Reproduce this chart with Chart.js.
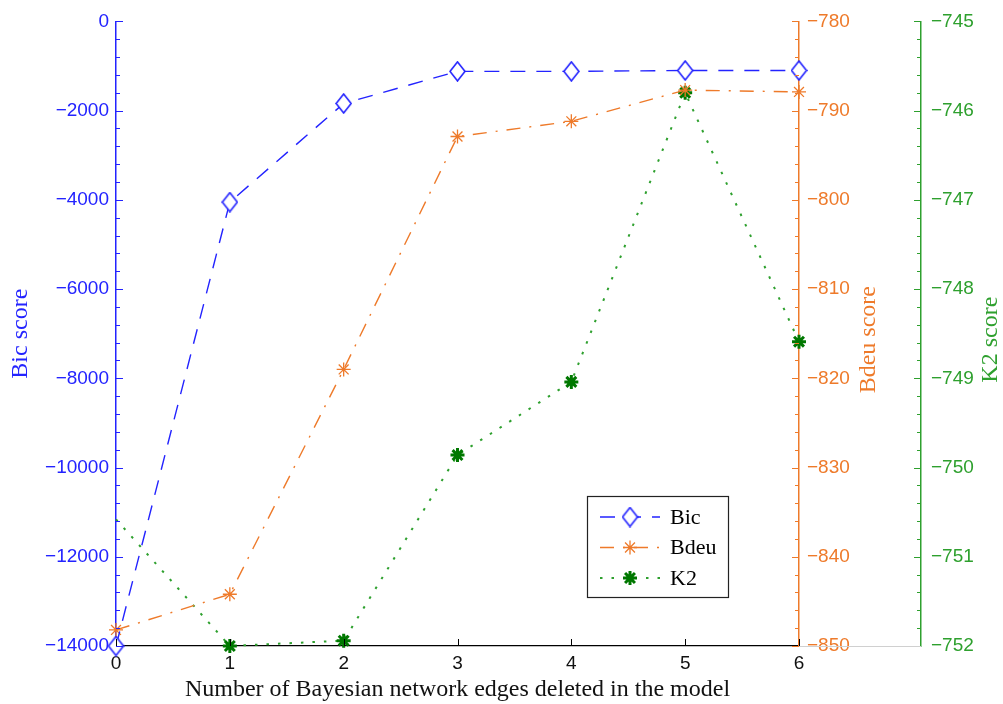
<!DOCTYPE html>
<html>
<head>
<meta charset="utf-8">
<title>Bayesian network scores</title>
<script src="https://cdn.jsdelivr.net/npm/chart.js@4.4.1/dist/chart.umd.min.js"></script>
<style>
  html, body { margin: 0; padding: 0; background: #ffffff; }
  canvas { display: block; }
</style>
</head>
<body>
<canvas id="scoreChart" width="1003" height="704"></canvas>
<script>
// values
const edgesDeleted = [0, 1, 2, 3, 4, 5, 6];
const bicScores = [-14000, -4050, -1840, -1120, -1120, -1100, -1100];
const bdeuScores = [-848.2, -844.2, -819.0, -792.9, -791.2, -787.7, -787.9];
const k2Scores = [-750.58, -752.0, -751.94, -749.86, -749.04, -745.80, -748.59];

const bicTicks = { min: -14000, max: 0, step: 2000 };
const bdeuTicks = { min: -850, max: -780, step: 10 };
const k2Ticks = { min: -752, max: -745, step: 1 };

const BLUE = '#2323ff';
const ORANGE = '#ee7a2a';
const GREEN = '#2ea02e';
const DARK_GREEN = '#007800';

const SANS = '"Liberation Sans", Arial, sans-serif';
const SERIF = '"Liberation Serif", "Times New Roman", serif';

function minus(v) {
  return String(Math.round(v)).replace('-', '\u2212');
}

function pairs(ys) {
  return edgesDeleted.map((x, i) => ({ x: x, y: ys[i] }));
}

// tall open diamond, like the matlab 'd' marker
function diamondMarker(w, h, color) {
  const c = document.createElement('canvas');
  c.width = w;
  c.height = h;
  const g = c.getContext('2d');
  g.strokeStyle = color;
  g.fillStyle = '#ffffff';
  g.lineWidth = 1.6;
  g.beginPath();
  g.moveTo(w / 2, 1);
  g.lineTo(w - 1, h / 2);
  g.lineTo(w / 2, h - 1);
  g.lineTo(1, h / 2);
  g.closePath();
  g.fill();
  g.stroke();
  return c;
}
const bicMarker = diamondMarker(17, 21, BLUE);

// inward MATLAB style tick marks, minor ticks and the grey box edge
const axisMarks = {
  id: 'axisMarks',
  afterDatasetsDraw(chart) {
    const ctx = chart.ctx;
    const ca = chart.chartArea;
    const specs = [
      { id: 'y', pos: chart.scales.y.right, dir: 1, color: BLUE, t: bicTicks },
      { id: 'y1', pos: chart.scales.y1.left, dir: -1, color: ORANGE, t: bdeuTicks },
      { id: 'y2', pos: chart.scales.y2.left, dir: -1, color: GREEN, t: k2Ticks }
    ];
    ctx.save();
    ctx.lineWidth = 1;
    specs.forEach(s => {
      const scale = chart.scales[s.id];
      const minor = s.t.step / 5;
      const n = Math.round((s.t.max - s.t.min) / minor);
      ctx.strokeStyle = s.color;
      for (let i = 0; i <= n; i++) {
        const v = s.t.min + i * minor;
        const py = Math.round(scale.getPixelForValue(v)) + 0.5;
        const len = i % 5 === 0 ? 7 : 4;
        ctx.beginPath();
        ctx.moveTo(s.pos, py);
        ctx.lineTo(s.pos + s.dir * len, py);
        ctx.stroke();
      }
    });
    // x ticks
    const xs = chart.scales.x;
    ctx.strokeStyle = '#000000';
    edgesDeleted.forEach(v => {
      const px = Math.round(xs.getPixelForValue(v)) + 0.5;
      ctx.beginPath();
      ctx.moveTo(px, ca.bottom);
      ctx.lineTo(px, ca.bottom - 7);
      ctx.stroke();
    });
    // grey baseline of the K2 axes box
    ctx.strokeStyle = '#d0d0d0';
    ctx.beginPath();
    ctx.moveTo(ca.right, ca.bottom + 0.5);
    ctx.lineTo(chart.scales.y2.left, ca.bottom + 0.5);
    ctx.stroke();

    // right axis titles, reading bottom to top
    const titles = [
      { text: 'Bdeu score', x: chart.scales.y1.right - 52, color: ORANGE },
      { text: 'K2 score', x: chart.scales.y2.right - 12, color: GREEN }
    ];
    ctx.font = '24px ' + SERIF;
    ctx.textAlign = 'center';
    ctx.textBaseline = 'middle';
    titles.forEach(t => {
      ctx.save();
      ctx.translate(t.x, (ca.top + ca.bottom) / 2 + 6);
      ctx.rotate(-Math.PI / 2);
      ctx.fillStyle = t.color;
      ctx.fillText(t.text, 0, 0);
      ctx.restore();
    });
    ctx.restore();
  }
};

// boxed legend inside the plot
const boxLegend = {
  id: 'boxLegend',
  afterDraw(chart) {
    const ctx = chart.ctx;
    const ca = chart.chartArea;
    const bx = ca.right - 212, by = ca.bottom - 150, bw = 141, bh = 101;
    ctx.save();
    ctx.fillStyle = '#ffffff';
    ctx.fillRect(bx, by, bw, bh);
    ctx.strokeStyle = '#222222';
    ctx.lineWidth = 1.2;
    ctx.strokeRect(bx + 0.5, by + 0.5, bw, bh);
    chart.data.datasets.forEach((ds, i) => {
      const y = by + 21 + i * 30.5;
      ctx.save();
      ctx.strokeStyle = ds.borderColor;
      ctx.lineWidth = ds.borderWidth;
      ctx.setLineDash(ds.borderDash || []);
      ctx.beginPath();
      ctx.moveTo(bx + 13, y);
      ctx.lineTo(bx + 73, y);
      ctx.stroke();
      ctx.setLineDash([]);
      ctx.strokeStyle = ds.pointBorderColor;
      ctx.fillStyle = ds.pointBackgroundColor;
      ctx.lineWidth = ds.pointBorderWidth;
      Chart.helpers.drawPoint(ctx, {
        pointStyle: ds.pointStyle,
        radius: ds.legendRadius,
        rotation: 0,
        borderWidth: ds.pointBorderWidth
      }, bx + 43, y);
      ctx.restore();
      ctx.fillStyle = '#000000';
      ctx.font = '22px ' + SERIF;
      ctx.textAlign = 'left';
      ctx.textBaseline = 'middle';
      ctx.fillText(ds.label, bx + 83, y + 1);
    });
    ctx.restore();
  }
};

const ctx = document.getElementById('scoreChart').getContext('2d');

const scoreChart = new Chart(ctx, {
  type: 'line',
  data: {
    datasets: [{
      label: 'Bic',
      data: pairs(bicScores),
      yAxisID: 'y',
      borderColor: BLUE,
      borderWidth: 1.4,
      borderDash: [15, 11],
      pointStyle: bicMarker,
      pointRadius: 8,
      legendRadius: 7,
      pointBorderColor: BLUE,
      pointBackgroundColor: 'rgba(255,255,255,0)',
      pointBorderWidth: 1.5,
      tension: 0,
      clip: false
    }, {
      label: 'Bdeu',
      data: pairs(bdeuScores),
      yAxisID: 'y1',
      borderColor: ORANGE,
      borderWidth: 1.4,
      borderDash: [14, 9, 2, 9],
      pointStyle: 'star',
      pointRadius: 7,
      legendRadius: 7,
      pointBorderColor: ORANGE,
      pointBackgroundColor: ORANGE,
      pointBorderWidth: 1.3,
      tension: 0,
      clip: false
    }, {
      label: 'K2',
      data: pairs(k2Scores),
      yAxisID: 'y2',
      borderColor: GREEN,
      borderWidth: 2,
      borderDash: [2.5, 9],
      pointStyle: 'star',
      pointRadius: [0, 7, 7, 7, 7, 7, 7],
      legendRadius: 7,
      pointBorderColor: DARK_GREEN,
      pointBackgroundColor: DARK_GREEN,
      pointBorderWidth: 3,
      tension: 0,
      clip: false
    }]
  },
  options: {
    responsive: false,
    animation: false,
    layout: { padding: { top: 20, left: 0, right: 0, bottom: 0 } },
    plugins: {
      legend: { display: false },
      tooltip: { enabled: false }
    },
    scales: {
      x: {
        type: 'linear',
        min: 0,
        max: 6,
        afterFit(scale) { scale.height = 58; },
        ticks: {
          stepSize: 1,
          color: '#111111',
          padding: 6,
          font: { size: 19, family: SANS }
        },
        grid: { display: false, drawTicks: false },
        border: { display: true, color: '#000000', width: 1.3 },
        title: {
          display: true,
          text: 'Number of Bayesian network edges deleted in the model',
          color: '#111111',
          padding: { top: 0, bottom: 0 },
          font: { size: 24, family: SERIF }
        }
      },
      y: {
        position: 'left',
        min: bicTicks.min,
        max: bicTicks.max,
        afterFit(scale) { scale.width = 116; },
        ticks: {
          stepSize: bicTicks.step,
          color: BLUE,
          padding: 7,
          font: { size: 19, family: SANS },
          callback: v => minus(v)
        },
        grid: { display: false, drawTicks: false },
        border: { display: true, color: BLUE, width: 1.5 },
        title: {
          display: true,
          text: 'Bic score',
          color: BLUE,
          padding: { top: 6, bottom: 0 },
          font: { size: 24, family: SERIF }
        }
      },
      y1: {
        position: 'right',
        min: bdeuTicks.min,
        max: bdeuTicks.max,
        afterFit(scale) { scale.width = 122; },
        ticks: {
          stepSize: bdeuTicks.step,
          color: ORANGE,
          padding: 8,
          font: { size: 19, family: SANS },
          callback: v => minus(v)
        },
        grid: { display: false, drawTicks: false },
        border: { display: true, color: ORANGE, width: 1.5 }
      },
      y2: {
        position: 'right',
        min: k2Ticks.min,
        max: k2Ticks.max,
        afterFit(scale) { scale.width = 82; },
        ticks: {
          stepSize: k2Ticks.step,
          color: GREEN,
          padding: 10,
          font: { size: 19, family: SANS },
          callback: v => minus(v)
        },
        grid: { display: false, drawTicks: false },
        border: { display: true, color: GREEN, width: 1.5 }
      }
    }
  },
  plugins: [axisMarks, boxLegend]
});
</script>
</body>
</html>
